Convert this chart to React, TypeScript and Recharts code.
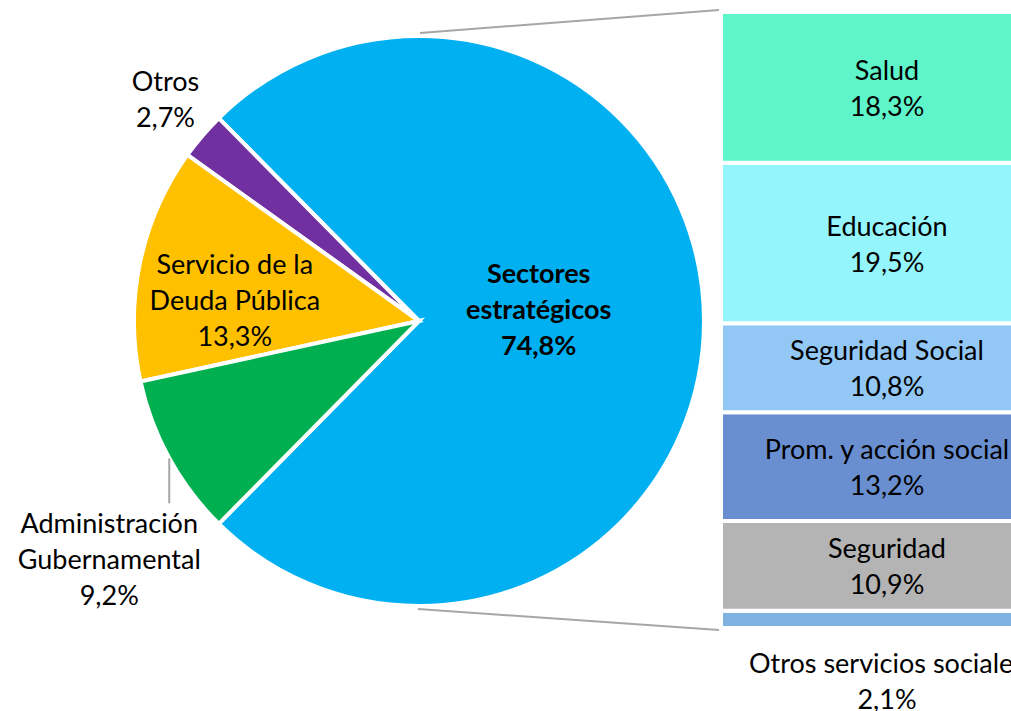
import React from "react"
import { PieChart, Pie, Cell, BarChart, Bar, XAxis, YAxis, LabelList } from "recharts"

// pie: main split of the spending
const pieNames = ["Sectores estratégicos", "Otros", "Servicio de la Deuda Pública", "Administración Gubernamental"]
const pieValues = [74.8, 2.7, 13.3, 9.2]
const pieLabelLines = [["Sectores", "estratégicos"], ["Otros"], ["Servicio de la", "Deuda Pública"], ["Administración", "Gubernamental"]]
const pieColors = ["#00B0F0", "#7030A0", "#FFC000", "#00B050"]

// bar: breakdown of "Sectores estratégicos", top to bottom
const barNames = ["Salud", "Educación", "Seguridad Social", "Prom. y acción social", "Seguridad", "Otros servicios sociales"]
const barValues = [18.3, 19.5, 10.8, 13.2, 10.9, 2.1]
const barColors = ["#5FF5CA", "#95F5FC", "#93C8F6", "#6A8FD0", "#B4B4B4", "#7FB2E0"]

const W = 1011
const H = 711
const CX = 419
const CY = 321
const R = 285
const BAR_LEFT = 723
const BAR_W = 332
const BAR_TOP = 12
const BAR_BOTTOM = 628
const FONT = "Lato, 'Noto Sans', sans-serif"
const FS = 27
const LH = 36
const RAD = Math.PI / 180

const fmt = (v: number) => v.toFixed(1).replace(".", ",") + "%"

const pieData = pieNames.map((name, i) => ({ name, value: pieValues[i], lines: pieLabelLines[i] }))
const pieTotal = pieValues.reduce((a, b) => a + b, 0)
const half = (pieValues[0] / pieTotal) * 180

const barRow: Record<string, number | string> = { name: "sectores" }
barNames.forEach((n, i) => { barRow[n] = barValues[i] })
const barTotal = barValues.reduce((a, b) => a + b, 0)

// label placement per pie slice: radius factor and offsets
const pieLabelPos = [
  { k: 0.42, dx: 0, dy: -13, bold: true },
  { k: 1.17, dx: 0, dy: -6, bold: false },
  { k: 0.66, dx: 0, dy: 17, bold: false },
  { k: 1, dx: 0, dy: 0, bold: false },
]

function TextBlock({ x, y, lines, bold }: { x: number, y: number, lines: string[], bold?: boolean }) {
  const top = y - ((lines.length - 1) * LH) / 2
  return (
    <text x={x} textAnchor="middle" fontFamily={FONT} fontSize={FS} fontWeight={bold ? 700 : 400} fill="#000">
      {lines.map((l, i) => (
        <tspan key={i} x={x} y={top + i * LH} dominantBaseline="central">{l}</tspan>
      ))}
    </text>
  )
}

function renderPieLabel(props: any) {
  const { cx, cy, midAngle, outerRadius, index, payload, value } = props
  const p = pieLabelPos[index]
  const lines = [...(payload?.lines ?? pieLabelLines[index]), fmt(value)]
  const cos = Math.cos(-midAngle * RAD)
  const sin = Math.sin(-midAngle * RAD)
  if (index === 3) {
    // leader line straight down from the arc, text below it
    const ex = cx + outerRadius * cos
    const ey = cy + outerRadius * sin
    return (
      <g>
        <line x1={ex} y1={ey} x2={ex} y2={ey + 45} stroke="#A6A6A6" strokeWidth={2} />
        <TextBlock x={ex - 60} y={ey + 100} lines={lines} />
      </g>
    )
  }
  const x = cx + outerRadius * p.k * cos + p.dx
  const y = cy + outerRadius * p.k * sin + p.dy
  return <TextBlock x={x} y={y} lines={lines} bold={p.bold} />
}

function barLabel(name: string, last: boolean) {
  return (props: any) => {
    const { x, y, width, height, value } = props
    const cx = Number(x) + Number(width) / 2
    const cy = last ? Number(y) + Number(height) + 52 : Number(y) + Number(height) / 2
    return <TextBlock x={cx} y={cy} lines={[name, fmt(Number(value))]} />
  }
}

export default function App() {
  const stackOrder = barNames.map((n, i) => i).reverse()
  return (
    <div style={{ position: "absolute", left: 0, top: 0, width: W, height: H, overflow: "hidden", background: "#fff" }}>
      <svg width={W} height={H} style={{ position: "absolute", left: 0, top: 0 }}>
        <line x1={CX + 1} y1={CY - R - 3} x2={BAR_LEFT - 4} y2={BAR_TOP - 2} stroke="#A6A6A6" strokeWidth={2} />
        <line x1={CX - 1} y1={CY + R + 3} x2={BAR_LEFT - 4} y2={BAR_BOTTOM + 2} stroke="#A6A6A6" strokeWidth={2} />
      </svg>
      <div style={{ position: "absolute", left: 0, top: 0 }}>
        <PieChart width={W} height={H} margin={{ top: 0, right: 0, bottom: 0, left: 0 }}>
          <Pie
            data={pieData}
            dataKey="value"
            cx={CX}
            cy={CY}
            outerRadius={R}
            startAngle={-half}
            endAngle={360 - half}
            stroke="#fff"
            strokeWidth={4}
            label={renderPieLabel}
            labelLine={false}
            isAnimationActive={false}
          >
            {pieData.map((d, i) => (
              <Cell key={d.name} fill={pieColors[i]} />
            ))}
          </Pie>
        </PieChart>
      </div>
      <div style={{ position: "absolute", left: BAR_LEFT - 2, top: 0 }}>
        <BarChart
          width={BAR_W}
          height={H}
          data={[barRow]}
          margin={{ top: BAR_TOP, bottom: H - BAR_BOTTOM, left: 0, right: 0 }}
          barCategoryGap={0}
        >
          <XAxis dataKey="name" hide />
          <YAxis hide domain={[0, barTotal]} />
          {stackOrder.map((i) => (
            <Bar
              key={barNames[i]}
              dataKey={barNames[i]}
              stackId="s"
              fill={barColors[i]}
              stroke="#fff"
              strokeWidth={4}
              isAnimationActive={false}
            >
              <LabelList dataKey={barNames[i]} content={barLabel(barNames[i], i === barNames.length - 1)} />
            </Bar>
          ))}
        </BarChart>
      </div>
    </div>
  )
}
